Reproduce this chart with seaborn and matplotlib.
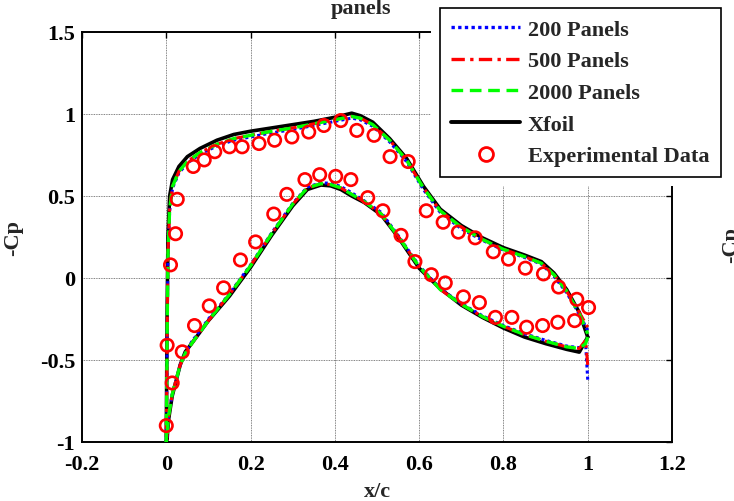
import matplotlib
matplotlib.use("Agg")
import matplotlib.pyplot as plt
from matplotlib.lines import Line2D
from matplotlib.patches import Rectangle
import seaborn as sns
import pandas as pd

# ---------------- data ----------------
# Xfoil
xf_x_upper = [0, 0.001, 0.002, 0.004, 0.008, 0.015, 0.03, 0.05, 0.08, 0.12, 0.16, 0.2, 0.25, 0.3,
              0.35, 0.4, 0.44, 0.46, 0.49, 0.53, 0.57, 0.61, 0.65, 0.7, 0.75, 0.8, 0.85, 0.89,
              0.92, 0.95, 0.98, 1.0]
xf_cp_upper = [-0.95, -0.6, -0.2, 0.25, 0.5, 0.6, 0.68, 0.74, 0.79, 0.84, 0.875, 0.895, 0.915, 0.935,
               0.955, 0.98, 1.005, 0.99, 0.95, 0.85, 0.73, 0.56, 0.42, 0.32, 0.245, 0.185, 0.14, 0.10,
               0.03, -0.07, -0.21, -0.36]
xf_x_lower = [0, 0.002, 0.005, 0.014, 0.033, 0.045, 0.06, 0.08, 0.1, 0.12, 0.15, 0.2, 0.25, 0.3,
              0.335, 0.367, 0.39, 0.414, 0.44, 0.47, 0.51, 0.55, 0.6, 0.65, 0.7, 0.75, 0.8, 0.85,
              0.9, 0.95, 0.98, 1.0]
xf_cp_lower = [-1.0, -0.98, -0.87, -0.72, -0.53, -0.45, -0.40, -0.33, -0.26, -0.20, -0.11, 0.065, 0.26,
               0.44, 0.54, 0.567, 0.562, 0.54, 0.50, 0.46, 0.385, 0.25, 0.06, -0.065, -0.165, -0.24,
               -0.305, -0.36, -0.40, -0.435, -0.452, -0.36]

# Panel method (common x stations)
pn_x_upper = [0, 0.001, 0.002, 0.004, 0.008, 0.015, 0.03, 0.05, 0.08, 0.12, 0.16, 0.2, 0.25, 0.3,
              0.35, 0.4, 0.44, 0.46, 0.49, 0.53, 0.57, 0.61, 0.65, 0.7, 0.75, 0.8, 0.85, 0.89,
              0.92, 0.95, 0.98, 1.0]
pn_x_lower = [0, 0.002, 0.005, 0.014, 0.033, 0.045, 0.06, 0.08, 0.1, 0.12, 0.15, 0.2, 0.25, 0.3,
              0.335, 0.367, 0.39, 0.414, 0.44, 0.47, 0.51, 0.55, 0.6, 0.65, 0.7, 0.75, 0.8, 0.85,
              0.9, 0.95, 0.98, 0.995, 1.0]

p2000_cp_upper = [-1.0, -0.7, -0.35, 0.15, 0.42, 0.56, 0.65, 0.71, 0.765, 0.815, 0.85, 0.87, 0.895,
                  0.915, 0.94, 0.965, 0.985, 0.975, 0.935, 0.84, 0.72, 0.55, 0.41, 0.31, 0.235, 0.175,
                  0.13, 0.09, 0.02, -0.08, -0.22, -0.34]
p2000_cp_lower = [-1.0, -0.95, -0.85, -0.71, -0.53, -0.46, -0.40, -0.33, -0.26, -0.195, -0.10, 0.075,
                  0.27, 0.45, 0.55, 0.575, 0.57, 0.55, 0.51, 0.465, 0.39, 0.255, 0.07, -0.07, -0.16,
                  -0.235, -0.295, -0.345, -0.385, -0.42, -0.43, -0.40, -0.36]

p500_cp_upper = [-1.0, -0.7, -0.35, 0.15, 0.42, 0.56, 0.65, 0.71, 0.765, 0.815, 0.85, 0.87, 0.895,
                 0.915, 0.94, 0.965, 0.985, 0.975, 0.935, 0.84, 0.72, 0.55, 0.41, 0.31, 0.235, 0.175,
                 0.13, 0.09, 0.02, -0.08, -0.21, -0.30]
p500_cp_lower = [-1.0, -0.95, -0.85, -0.71, -0.53, -0.46, -0.40, -0.33, -0.26, -0.195, -0.10, 0.075,
                 0.27, 0.45, 0.55, 0.575, 0.57, 0.55, 0.51, 0.465, 0.39, 0.255, 0.07, -0.07, -0.16,
                 -0.235, -0.295, -0.345, -0.385, -0.42, -0.43, -0.38, -0.53]

p200_cp_upper = [-1.0, -0.7, -0.35, 0.14, 0.41, 0.55, 0.64, 0.70, 0.755, 0.805, 0.84, 0.86, 0.885,
                 0.905, 0.93, 0.955, 0.975, 0.965, 0.925, 0.83, 0.71, 0.54, 0.40, 0.30, 0.23, 0.17,
                 0.125, 0.085, 0.01, -0.09, -0.22, -0.32]
p200_cp_lower = [-1.0, -0.95, -0.85, -0.71, -0.53, -0.46, -0.39, -0.32, -0.25, -0.19, -0.095, 0.08,
                 0.275, 0.455, 0.555, 0.58, 0.578, 0.558, 0.52, 0.47, 0.40, 0.26, 0.075, -0.065, -0.155,
                 -0.23, -0.29, -0.34, -0.38, -0.415, -0.425, -0.40, -0.62]

# Experimental data
exp_x = [0.0, 0.002, 0.01, 0.022, 0.026, 0.064, 0.09, 0.115, 0.15, 0.18, 0.22, 0.257, 0.298, 0.338,
         0.374, 0.414, 0.452, 0.493, 0.531, 0.574, 0.617, 0.657, 0.693, 0.733, 0.776, 0.812, 0.852,
         0.895, 0.931, 0.974, 1.002,
         0.014, 0.038, 0.067, 0.102, 0.136, 0.176, 0.212, 0.255, 0.286, 0.329, 0.364, 0.402, 0.438,
         0.478, 0.514, 0.557, 0.59, 0.629, 0.662, 0.705, 0.743, 0.781, 0.82, 0.855, 0.893, 0.929, 0.969]
exp_cp = [-0.90, -0.41, 0.08, 0.27, 0.48, 0.68, 0.72, 0.77, 0.80, 0.80, 0.82, 0.84, 0.86, 0.89,
          0.93, 0.96, 0.90, 0.87, 0.74, 0.71, 0.41, 0.34, 0.28, 0.245, 0.16, 0.115, 0.06,
          0.025, -0.055, -0.13, -0.18,
          -0.64, -0.45, -0.29, -0.17, -0.06, 0.11, 0.22, 0.39, 0.51, 0.60, 0.63, 0.62, 0.60,
          0.49, 0.41, 0.26, 0.10, 0.02, -0.03, -0.115, -0.15, -0.24, -0.24, -0.30, -0.29, -0.27, -0.26]

labels = ["200 Panels", "500 Panels", "2000 Panels", "Xfoil", "Experimental Data"]
x_ticks = [-0.2, 0, 0.2, 0.4, 0.6, 0.8, 1, 1.2]
x_tick_labels = ["-0.2", "0", "0.2", "0.4", "0.6", "0.8", "1", "1.2"]
y_ticks = [-1, -0.5, 0, 0.5, 1, 1.5]
y_tick_labels = ["-1", "-0.5", "0", "0.5", "1", "1.5"]


def path(xu, cu, xl, cl):
    xs = list(reversed(xl)) + list(xu)
    cs = list(reversed(cl)) + list(cu)
    return pd.DataFrame({"x": xs, "cp": cs, "order": range(len(xs))})


# ---------------- style ----------------
sns.set_style("white")
plt.rcParams["font.family"] = ["Liberation Serif", "DejaVu Serif"]
plt.rcParams["font.weight"] = "bold"
plt.rcParams["axes.labelweight"] = "bold"
FS = 16

W, H = 734, 502
fig = plt.figure(figsize=(W / 100, H / 100), dpi=100)
ax = fig.add_axes([82 / W, 1 - 443 / H, (672 - 82) / W, (443 - 33) / H])

series = [
    (path(xf_x_upper, xf_cp_upper, xf_x_lower, xf_cp_lower), "black", "-", 2.6, 2),
    (path(pn_x_upper, p200_cp_upper, pn_x_lower, p200_cp_lower), (0, 0, 1), (0, (1, 1)), 2.2, 3),
    (path(pn_x_upper, p500_cp_upper, pn_x_lower, p500_cp_lower), (1, 0, 0), (0, (4, 1.6, 1, 1.6)), 2.2, 4),
    (path(pn_x_upper, p2000_cp_upper, pn_x_lower, p2000_cp_lower), (0, 1, 0), (0, (3.5, 2)), 2.4, 5),
]
for df, col, ls, lw, z in series:
    sns.lineplot(data=df, x="x", y="cp", sort=False, estimator=None, ax=ax,
                 color=col, linewidth=lw, linestyle=ls, zorder=z, legend=False)

sns.scatterplot(x=exp_x, y=exp_cp, ax=ax, marker="o", s=80, facecolor="none",
                edgecolor=(1, 0, 0), linewidth=1.9, zorder=6, legend=False)

ax.set_xlim(-0.2, 1.2)
ax.set_ylim(-1, 1.5)
ax.set_xticks(x_ticks)
ax.set_xticklabels(x_tick_labels)
ax.set_yticks(y_ticks)
ax.set_yticklabels(y_tick_labels)
ax.tick_params(direction="in", length=4, width=1, top=True, right=True,
               labelsize=FS, colors="black")
ax.tick_params(axis="x", pad=9)
ax.tick_params(axis="y", pad=5)
for lab in ax.get_xticklabels() + ax.get_yticklabels():
    lab.set_fontweight("bold")
ax.grid(True, linestyle=(0, (1, 1)), color="0.35", linewidth=0.6)
for sp in ax.spines.values():
    sp.set_visible(True)
    sp.set_color("black")
    sp.set_linewidth(1.4)

ax.set_xlabel("x/c", fontsize=FS, fontweight="bold", labelpad=5)
ax.set_ylabel("-Cp", fontsize=FS, fontweight="bold", labelpad=12)

# title (clipped second line)
fig.text(361 / W, 1 - 14 / H, "panels", ha="center", va="baseline",
         fontsize=FS, fontweight="bold")

# partial label from neighbouring panel
fig.text(721 / W, 1 - 245 / H, "-Cp", ha="left", va="center", rotation=90,
         fontsize=FS, fontweight="bold")

# white margin behind legend
fig.patches.append(Rectangle((431 / W, 1 - 187 / H), (W - 431) / W + 0.01, 187 / H + 0.01,
                             transform=fig.transFigure, facecolor="white",
                             edgecolor="none", zorder=9))

handles = [
    Line2D([], [], color=(0, 0, 1), linestyle=(0, (1, 1)), linewidth=2.4),
    Line2D([], [], color=(1, 0, 0), linestyle=(0, (4, 1.6, 1, 1.6)), linewidth=2.4),
    Line2D([], [], color=(0, 1, 0), linestyle=(0, (3.5, 2)), linewidth=2.4),
    Line2D([], [], color="black", linestyle="-", linewidth=2.8),
    Line2D([], [], color=(1, 0, 0), marker="o", linestyle="none", markersize=10,
           markerfacecolor="none", markeredgewidth=2),
]
leg = fig.legend(handles, labels, loc="upper left", bbox_to_anchor=(440 / W, 1 - 9 / H),
                 frameon=True, fancybox=False, edgecolor="black", framealpha=1,
                 prop={"family": "Liberation Serif", "weight": "bold", "size": FS},
                 handlelength=3.1, handletextpad=0.36, labelspacing=0.5,
                 borderpad=0.5, borderaxespad=0)
leg.get_frame().set_linewidth(1.2)
leg.set_zorder(10)

fig.savefig("out.png", dpi=100)
